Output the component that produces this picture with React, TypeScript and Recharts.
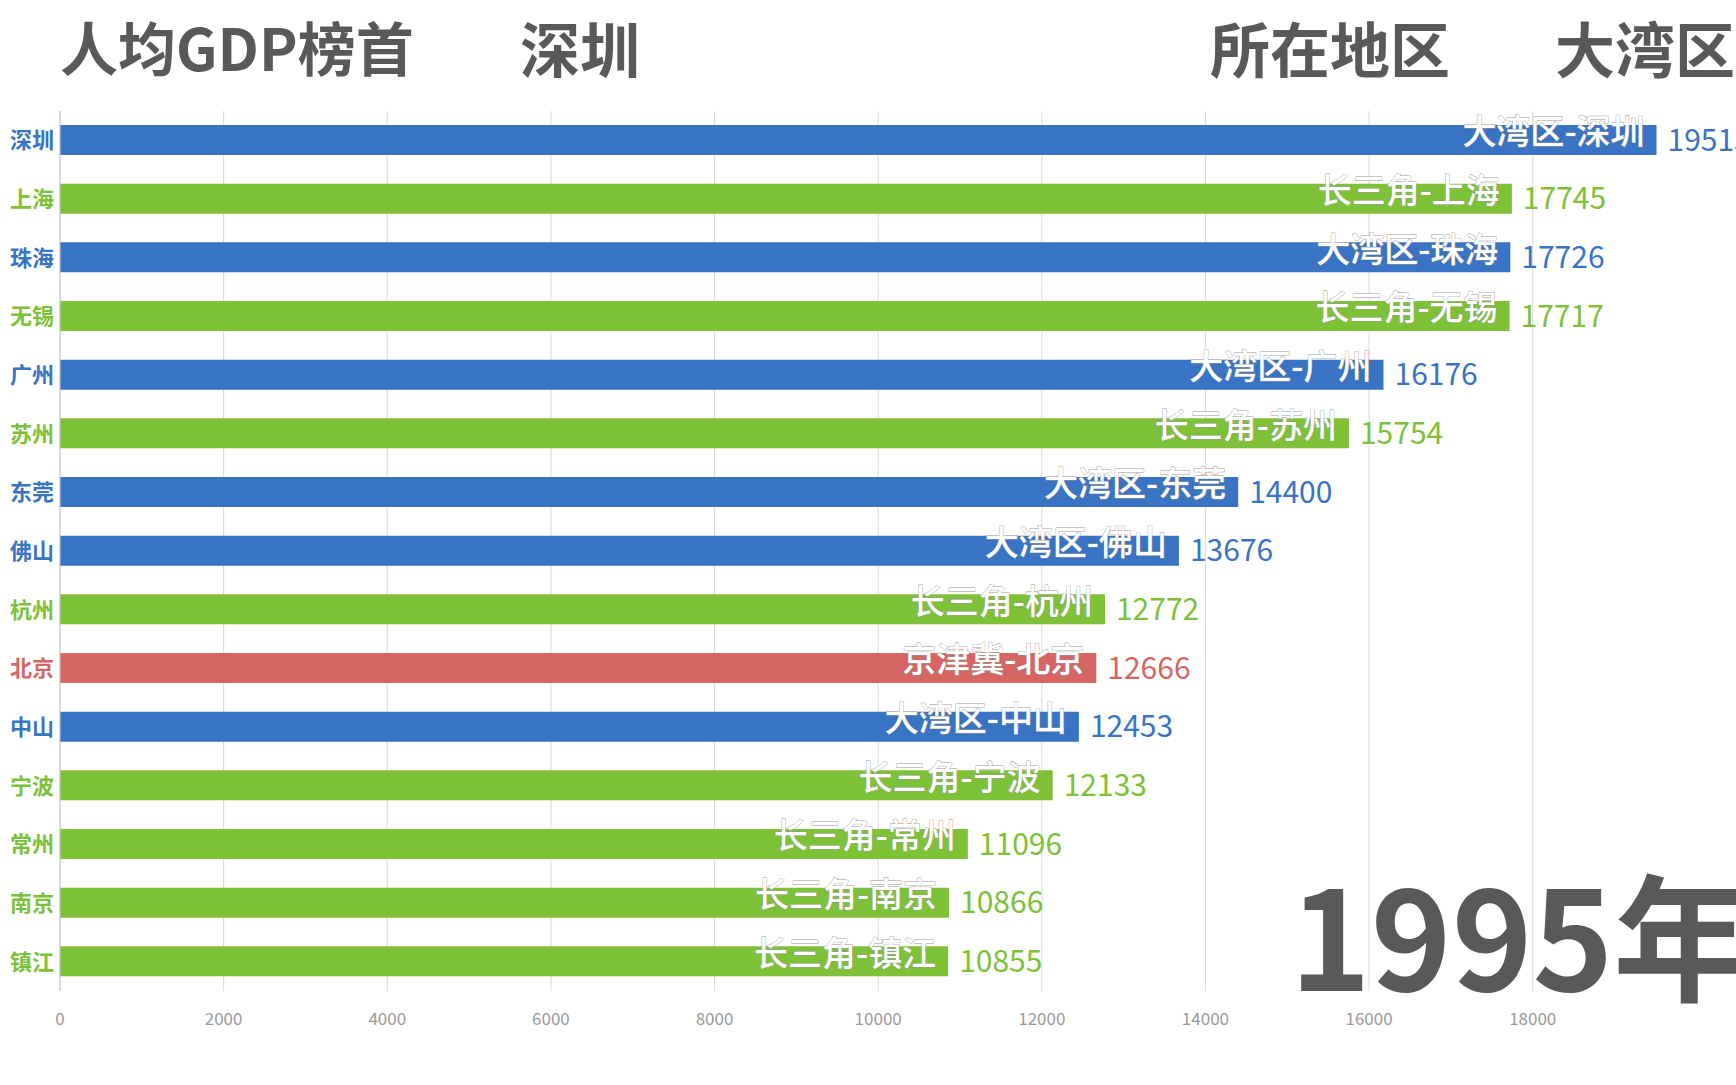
import { BarChart, Bar, XAxis, YAxis, CartesianGrid, Cell, LabelList } from 'recharts';

const cities = ['深圳', '上海', '珠海', '无锡', '广州', '苏州', '东莞', '佛山', '杭州', '北京', '中山', '宁波', '常州', '南京', '镇江'];
const regions = ['大湾区', '长三角', '大湾区', '长三角', '大湾区', '长三角', '大湾区', '大湾区', '长三角', '京津冀', '大湾区', '长三角', '长三角', '长三角', '长三角'];
const gdpPerCapita = [19513, 17745, 17726, 17717, 16176, 15754, 14400, 13676, 12772, 12666, 12453, 12133, 11096, 10866, 10855];
const xTicks = [0, 2000, 4000, 6000, 8000, 10000, 12000, 14000, 16000, 18000];
const year = '1995年';
const leader = '深圳';
const leaderRegion = '大湾区';

const regionColors: Record<string, string> = {
  大湾区: '#3873C4',
  长三角: '#7DC137',
  京津冀: '#D56663',
};

const data = cities.map((city, i) => ({ city, region: regions[i], value: gdpPerCapita[i] }));

const FONT = "'Noto Sans CJK SC', 'Noto Sans', sans-serif";
const GREY = '#595959';

const YTick = (props: any) => {
  const { x, y, payload, index } = props;
  const region = regions[index] ?? regions[cities.indexOf(payload.value)];
  return (
    <text x={x + 2} y={y} dy="0.36em" textAnchor="end" fill={regionColors[region]} fontSize={22} fontWeight={700} fontFamily={FONT}>
      {payload.value}
    </text>
  );
};

const XTick = (props: any) => {
  const { x, y, payload } = props;
  return (
    <text x={x} y={y + 20} dy="0.36em" textAnchor="middle" fill="#9a9a9a" fontSize={17} fontFamily={FONT}>
      {payload.value}
    </text>
  );
};

// white label inside the bar, sitting a little high so it pokes over the top edge
const InsideLabel = (props: any) => {
  const { x, y, width, height, index } = props;
  return (
    <text
      x={x + width - 12}
      y={y + height / 2 - 8}
      dy="0.36em"
      textAnchor="end"
      fill="#fff"
      stroke="#9a9a9a"
      strokeWidth={0.8}
      paintOrder="stroke"
      fontSize={34}
      fontWeight={500}
      fontFamily={FONT}
    >
      {regions[index]}-{cities[index]}
    </text>
  );
};

const ValueLabel = (props: any) => {
  const { x, y, width, height, index, value } = props;
  return (
    <text x={x + width + 11} y={y + height / 2} dy="0.36em" textAnchor="start" fill={regionColors[regions[index]]} fontSize={30} fontFamily={FONT}>
      {value}
    </text>
  );
};

const titleStyle = (left: number, size: number): React.CSSProperties => ({
  position: 'absolute',
  left,
  top: 17,
  zIndex: 2,
  fontSize: size,
  lineHeight: `${size}px`,
  fontWeight: 700,
  color: GREY,
  whiteSpace: 'nowrap',
});

export default function App() {
  return (
    <div style={{ position: 'fixed', left: 0, top: 0, width: 1736, height: 1085, overflow: 'hidden', background: '#fff', fontFamily: FONT }}>
      <div style={{ position: 'absolute', left: 1290, top: 876, fontSize: 137, lineHeight: '110px', fontWeight: 700, color: GREY, whiteSpace: 'nowrap' }}>
        {year}
      </div>
      <div style={{ position: 'absolute', left: 0, top: 0, zIndex: 1 }}>
        <BarChart layout="vertical" width={1870} height={1085} data={data} margin={{ top: 111, right: 10, left: 0, bottom: 54 }} barSize={30}>
          <CartesianGrid horizontal={false} stroke="#d9d9d9" />
          <XAxis type="number" domain={[0, 22000]} ticks={xTicks} axisLine={false} tickLine={false} height={40} tick={<XTick />} interval={0} />
          <YAxis type="category" dataKey="city" width={60} axisLine={{ stroke: '#c8c8c8' }} tickLine={false} tick={<YTick />} interval={0} />
          <Bar dataKey="value" isAnimationActive={false}>
            {data.map((d) => (
              <Cell key={d.city} fill={regionColors[d.region]} />
            ))}
            <LabelList dataKey="value" content={<InsideLabel />} />
            <LabelList dataKey="value" content={<ValueLabel />} />
          </Bar>
        </BarChart>
      </div>
      <div style={titleStyle(60, 58)}>人均GDP榜首</div>
      <div style={titleStyle(520, 60)}>{leader}</div>
      <div style={titleStyle(1210, 60)}>所在地区</div>
      <div style={titleStyle(1555, 60)}>{leaderRegion}</div>
    </div>
  );
}
